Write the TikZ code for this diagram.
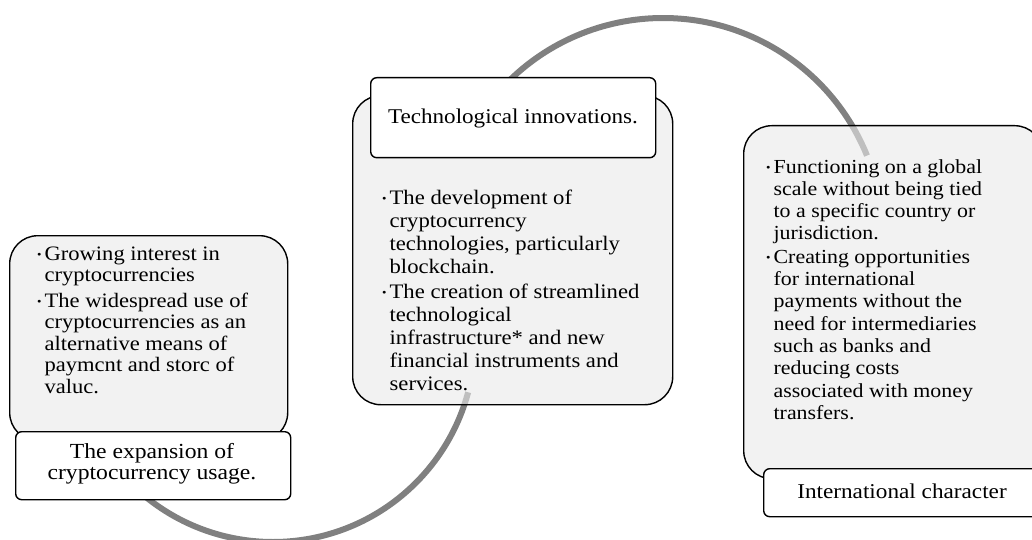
\documentclass[tikz,border=0pt]{standalone}
\usepackage{fontspec}
\setmainfont[FakeStretch=1.1]{Liberation Serif}
\definecolor{arcgray}{RGB}{128,128,128}
\definecolor{boxgray}{RGB}{233,233,233}
\newcommand{\bul}{\raisebox{1.8pt}{\fontsize{11.5}{11.5}\selectfont •}}
\begin{document}
\begin{tikzpicture}[x=1pt,y=1pt]
\tikzset{
  arcline/.style={draw=arcgray, line width=6pt},
  graybox/.style={draw=black, line width=1.4pt, fill=boxgray, fill opacity=0.6, rounded corners=28pt, inner sep=0pt, anchor=north west},
  labelbox/.style={draw=black, line width=1.4pt, fill=white, rounded corners=6pt, inner sep=0pt, anchor=north west},
  bodytext/.style={anchor=base west, inner sep=0pt, align=left},
  labeltext/.style={inner sep=0pt, align=center},
}
\useasboundingbox (0,0) rectangle (1032,-540);
% background arcs
\coordinate (lc) at (273,-340);
\coordinate (uc) at (663,-238);
\draw[arcline] ([shift={(225:202)}]lc) arc[start angle=225, end angle=345, radius=202];
\draw[arcline] ([shift={(140:220)}]uc) arc[start angle=140, end angle=22, radius=220];
% gray content boxes
\node[graybox, minimum width=278pt, minimum height=205pt] (lbox) at (9,-235) {};
\node[graybox, minimum width=320pt, minimum height=309pt] (mbox) at (352,-95) {};
\node[graybox, minimum width=299pt, minimum height=353pt] (rbox) at (743,-125) {};
% label boxes
\node[labelbox, minimum width=275pt, minimum height=68pt] (llab) at (15,-431) {};
\node[labelbox, minimum width=285pt, minimum height=80pt] (mlab) at (370,-77) {};
\node[labelbox, minimum width=278pt, minimum height=48pt] (rlab) at (763,-468) {};
% label texts
\node[labeltext, font=\fontsize{21.5}{21}\selectfont] (llabt) at (152,-463.4) {The expansion of\\cryptocurrency usage.};
\node[labeltext, anchor=base, font=\fontsize{21}{21}\selectfont] (mlabt) at (513,-124) {Technological innovations.};
\node[labeltext, anchor=base, font=\fontsize{21.1}{21}\selectfont] (rlabt) at (902,-498) {International character};
% body texts
\node[bodytext, font=\fontsize{20.5}{21.5}\selectfont] (ltext) at (37,-260) {\begin{tabular}[t]{@{}l@{\hspace{3pt}}l@{}}
\bul & Growing interest in\\
 & cryptocurrencies\\[4pt]
\bul & The widespread use of\\
 & cryptocurrencies as an\\
 & alternative means of\\
 & paymcnt and storc of\\
 & valuc.
\end{tabular}};
\node[bodytext, font=\fontsize{20.6}{23}\selectfont] (mtext) at (382,-204) {\begin{tabular}[t]{@{}l@{\hspace{3pt}}l@{}}
\bul & The development of\\
 & cryptocurrency\\
 & technologies, particularly\\
 & blockchain.\\[2pt]
\bul & The creation of streamlined\\
 & technological\\
 & infrastructure* and new\\
 & financial instruments and\\
 & services.
\end{tabular}};
\node[bodytext, font=\fontsize{19.9}{22.3}\selectfont] (rtext) at (766,-173) {\begin{tabular}[t]{@{}l@{\hspace{3pt}}l@{}}
\bul & Functioning on a global\\
 & scale without being tied\\
 & to a specific country or\\
 & jurisdiction.\\[1pt]
\bul & Creating opportunities\\
 & for international\\
 & payments without the\\
 & need for intermediaries\\
 & such as banks and\\
 & reducing costs\\
 & associated with money\\
 & transfers.
\end{tabular}};
\end{tikzpicture}
\end{document}
